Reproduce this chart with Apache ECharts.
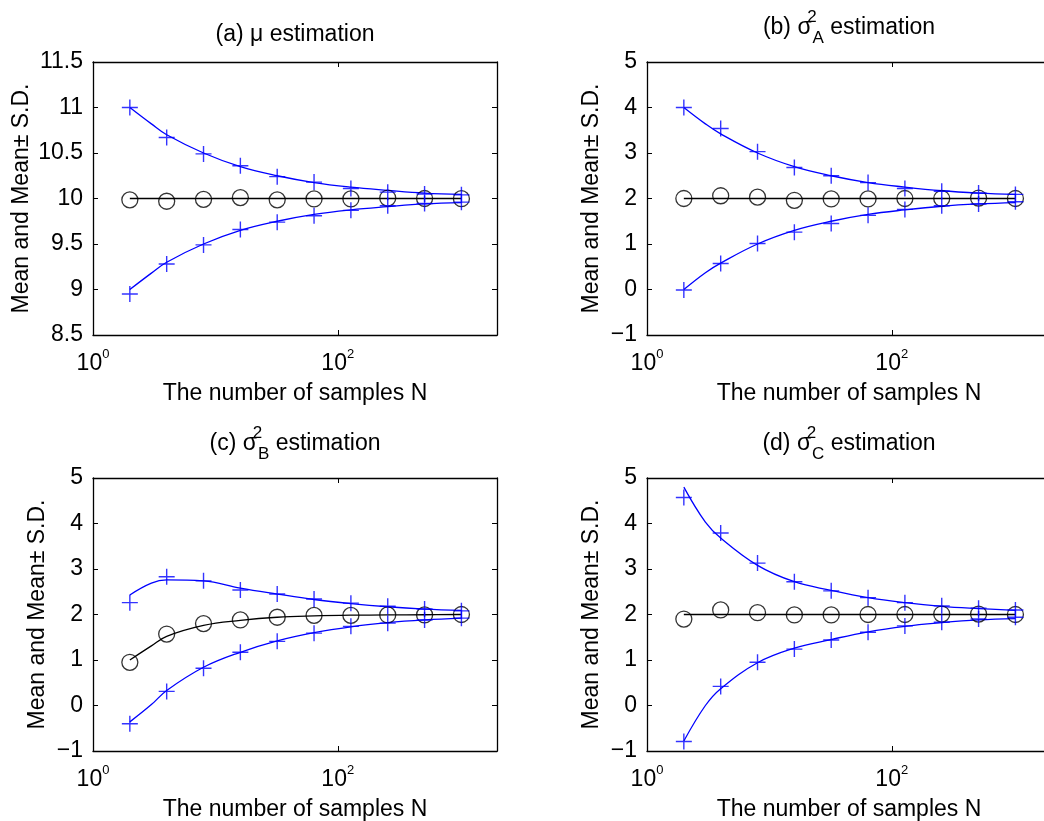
<!DOCTYPE html>
<html>
<head>
<meta charset="utf-8">
<title>Mean and Mean± S.D. versus N</title>
<script src="https://cdn.jsdelivr.net/npm/echarts@6/dist/echarts.min.js"></script>
<style>
html, body { margin: 0; padding: 0; background: #fff; }
#main { width: 1044px; height: 821px; }
</style>
</head>
<body>
<div id="main"></div>
<script>
// sample sizes of the simulated points
var sampleN = [2, 4, 8, 16, 32, 64, 128, 256, 512, 1024];
var curveN = [2, 3, 4, 8, 16, 32, 64, 128, 256, 512, 1024];
// ends of the flat theory mean lines
var lineN = [2, 1024];

// x tick labels are 10^e
var xTickExps = [0, 2];

// (a) mu
var muMean  = [9.985, 9.97, 9.99, 10.01, 9.985, 9.995, 9.995, 10.005, 10.0, 9.998];
var muUpper = [11.0, 10.67, 10.49, 10.36, 10.24, 10.18, 10.11, 10.07, 10.05, 10.04];
var muLower = [8.95, 9.28, 9.49, 9.66, 9.74, 9.81, 9.87, 9.92, 9.945, 9.96];
var muLineMean  = [10, 10];
var muCurveUp   = [11.0, 10.82, 10.70, 10.50, 10.35, 10.25, 10.175, 10.125, 10.09, 10.06, 10.045];
var muCurveDown = [9.0, 9.18, 9.30, 9.50, 9.65, 9.75, 9.825, 9.875, 9.91, 9.94, 9.955];

// (b) sigma_A^2
var saMean  = [2.0, 2.06, 2.03, 1.96, 1.99, 1.99, 2.0, 2.0, 2.01, 2.0];
var saUpper = [4.0, 3.54, 3.03, 2.68, 2.50, 2.35, 2.22, 2.16, 2.12, 2.09];
var saLower = [-0.01, 0.57, 1.01, 1.26, 1.45, 1.63, 1.76, 1.84, 1.88, 1.93];
var saLineMean  = [2, 2];
var saCurveUp   = [4.0, 3.64, 3.42, 3.0, 2.70, 2.50, 2.35, 2.25, 2.17, 2.12, 2.09];
var saCurveDown = [0.0, 0.37, 0.58, 1.0, 1.30, 1.50, 1.65, 1.75, 1.83, 1.88, 1.91];

// (c) sigma_B^2
var sbMean  = [0.95, 1.57, 1.80, 1.88, 1.94, 1.98, 1.98, 1.99, 1.99, 2.0];
var sbUpper = [2.26, 2.83, 2.74, 2.54, 2.45, 2.34, 2.25, 2.18, 2.12, 2.08];
var sbLower = [-0.40, 0.31, 0.82, 1.17, 1.41, 1.59, 1.74, 1.81, 1.88, 1.92];
var sbCurveMean = [1.0, 1.31, 1.52, 1.76, 1.87, 1.94, 1.97, 1.985, 1.99, 1.995, 2.0];
var sbCurveUp   = [2.43, 2.69, 2.76, 2.74, 2.58, 2.45, 2.33, 2.24, 2.17, 2.12, 2.09];
var sbCurveDown = [-0.36, 0.02, 0.33, 0.84, 1.17, 1.42, 1.60, 1.73, 1.82, 1.88, 1.92];

// (d) sigma_C^2
var scMean  = [1.90, 2.10, 2.04, 1.99, 1.99, 2.0, 2.0, 2.01, 2.01, 2.0];
var scUpper = [4.57, 3.79, 3.13, 2.72, 2.52, 2.37, 2.26, 2.19, 2.14, 2.10];
var scLower = [-0.79, 0.42, 0.95, 1.24, 1.44, 1.61, 1.75, 1.83, 1.90, 1.94];
var scLineMean  = [2, 2];
var scCurveUp   = [4.80, 4.03, 3.68, 3.08, 2.72, 2.53, 2.37, 2.26, 2.18, 2.13, 2.09];
var scCurveDown = [-0.78, 0.0, 0.37, 0.94, 1.26, 1.45, 1.62, 1.74, 1.82, 1.88, 1.91];

var panels = [
  {label: '(a) ', sym: 'μ', sup: null, sub: null, yMin: 8.5, yMax: 11.5, yStep: 0.5,
   mean: muMean, upper: muUpper, lower: muLower,
   meanN: lineN, meanLine: muLineMean, up: muCurveUp, down: muCurveDown},
  {label: '(b) ', sym: 'σ', sup: '2', sub: 'A', yMin: -1, yMax: 5, yStep: 1,
   mean: saMean, upper: saUpper, lower: saLower,
   meanN: lineN, meanLine: saLineMean, up: saCurveUp, down: saCurveDown},
  {label: '(c) ', sym: 'σ', sup: '2', sub: 'B', yMin: -1, yMax: 5, yStep: 1,
   mean: sbMean, upper: sbUpper, lower: sbLower,
   meanN: curveN, meanLine: sbCurveMean, up: sbCurveUp, down: sbCurveDown},
  {label: '(d) ', sym: 'σ', sup: '2', sub: 'C', yMin: -1, yMax: 5, yStep: 1,
   mean: scMean, upper: scUpper, lower: scLower,
   meanN: lineN, meanLine: scLineMean, up: scCurveUp, down: scCurveDown}
];

var FONT = '"Liberation Sans", Arial, Helvetica, sans-serif';
var FS = 23;
var BLUE = '#0000ff';
var PLUS = 'path://M7.3,0H8.7V7.3H16V8.7H8.7V16H7.3V8.7H0V7.3H7.3Z';

var gridBoxes = [
  {left: 93, top: 62, width: 404, height: 273},
  {left: 647, top: 62, width: 404, height: 273},
  {left: 93, top: 478, width: 404, height: 273},
  {left: 647, top: 478, width: 404, height: 273}
];
var yNameGaps = [60, 44, 44, 44];
var titleTops = [22, 9, 425, 425];

function pairs(xs, ys) {
  return xs.map(function (x, i) { return [x, ys[i]]; });
}

function xLabel(v) {
  var e = Math.log(v) / Math.LN10;
  var r = Math.round(e);
  if (Math.abs(e - r) > 1e-6 || xTickExps.indexOf(r) < 0) return '';
  return '{b|10}{s|' + r + '}';
}

function txt(size, extra) {
  return Object.assign({fontSize: size, fontFamily: FONT, color: '#000', fontWeight: 'normal'}, extra || {});
}

var axisLineStyle = {color: '#000', width: 1.3};
var tickStyle = {show: true, inside: true, length: 5, lineStyle: {color: '#000', width: 1}};

var grid = [], xAxis = [], yAxis = [], series = [], title = [];

panels.forEach(function (p, k) {
  var g = gridBoxes[k];
  grid.push({left: g.left, top: g.top, width: g.width, height: g.height,
             outerBoundsMode: 'none', containLabel: false});

  var xBase = {
    type: 'log', logBase: 10, min: 1, max: 2000, interval: 2, gridIndex: k,
    axisLine: {show: true, onZero: false, lineStyle: axisLineStyle},
    axisTick: tickStyle,
    splitLine: {show: false}
  };
  xAxis.push(Object.assign({}, xBase, {
    position: 'bottom',
    axisLabel: {
      margin: 13, color: '#000', fontFamily: FONT, formatter: xLabel,
      rich: {
        b: txt(FS, {lineHeight: FS, padding: [8, 0, 0, 0]}),
        s: txt(13, {lineHeight: 13, verticalAlign: 'top'})
      }
    },
    name: 'The number of samples N', nameLocation: 'middle', nameGap: 47,
    nameTextStyle: txt(FS)
  }));
  xAxis.push(Object.assign({}, xBase, {position: 'top', axisLabel: {show: false}}));

  var yBase = {
    type: 'value', min: p.yMin, max: p.yMax, interval: p.yStep, gridIndex: k,
    axisLine: {show: true, onZero: false, lineStyle: axisLineStyle},
    axisTick: tickStyle,
    splitLine: {show: false}
  };
  yAxis.push(Object.assign({}, yBase, {
    position: 'left',
    axisLabel: Object.assign(txt(FS), {
      margin: 10,
      formatter: function (v) { return String(v).replace('-', '\u2212'); }
    }),
    name: 'Mean and Mean\u00b1 S.D.', nameLocation: 'middle', nameGap: yNameGaps[k],
    nameTextStyle: txt(FS)
  }));
  yAxis.push(Object.assign({}, yBase, {position: 'right', axisLabel: {show: false}}));

  var text = '{m|' + p.label + p.sym + '}';
  if (p.sup) text += '{sup|' + p.sup + '}{sub|' + p.sub + '}';
  text += '{m| estimation}';
  title.push({
    text: text, left: g.left + g.width / 2, top: titleTops[k], textAlign: 'center', padding: 0,
    textStyle: {
      fontWeight: 'normal',
      rich: {
        m: txt(FS, {lineHeight: p.sup ? 38 : 26}),
        sup: txt(17, {lineHeight: 18, verticalAlign: 'top', width: 1}),
        sub: txt(17, {lineHeight: 18, verticalAlign: 'bottom'})
      }
    }
  });

  var ax = {xAxisIndex: 2 * k, yAxisIndex: 2 * k};
  series.push(Object.assign({
    type: 'line', data: pairs(p.meanN, p.meanLine), smooth: 0.4, symbol: 'none',
    lineStyle: {color: '#000', width: 1.3}, z: 2
  }, ax));
  series.push(Object.assign({
    type: 'line', data: pairs(curveN, p.up), smooth: 0.4, symbol: 'none',
    lineStyle: {color: BLUE, width: 1.3}, z: 2
  }, ax));
  series.push(Object.assign({
    type: 'line', data: pairs(curveN, p.down), smooth: 0.4, symbol: 'none',
    lineStyle: {color: BLUE, width: 1.3}, z: 2
  }, ax));
  series.push(Object.assign({
    type: 'scatter', data: pairs(sampleN, p.mean), symbol: 'circle', symbolSize: 16,
    itemStyle: {color: 'rgba(0,0,0,0)', borderColor: '#000', borderWidth: 1.3}, z: 3
  }, ax));
  series.push(Object.assign({
    type: 'scatter', data: pairs(sampleN, p.upper), symbol: PLUS, symbolSize: 16,
    itemStyle: {color: BLUE}, z: 4
  }, ax));
  series.push(Object.assign({
    type: 'scatter', data: pairs(sampleN, p.lower), symbol: PLUS, symbolSize: 16,
    itemStyle: {color: BLUE}, z: 4
  }, ax));
});

var chart = echarts.init(document.getElementById('main'));
chart.setOption({
  animation: false,
  backgroundColor: '#fff',
  title: title,
  grid: grid,
  xAxis: xAxis,
  yAxis: yAxis,
  series: series
});
</script>
</body>
</html>
